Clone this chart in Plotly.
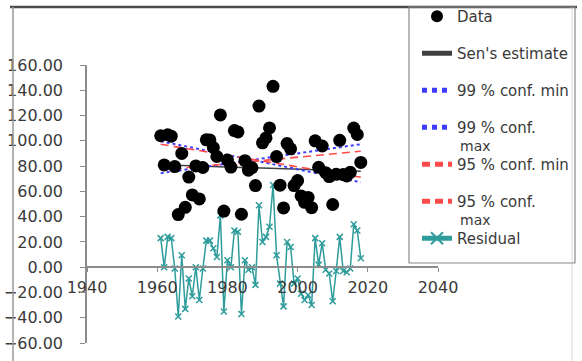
import plotly.graph_objects as go

# ---------------- data ----------------
years = list(range(1961, 2019))

data_values = [104.0, 80.9, 104.8, 103.7, 79.6, 41.6, 90.0, 47.4, 71.3, 57.2,
               80.1, 54.0, 78.9, 100.8, 100.7, 94.7, 87.6, 120.5, 44.4, 84.8,
               79.2, 108.1, 107.0, 41.9, 84.3, 76.8, 78.7, 64.6, 127.5, 98.4,
               102.3, 110.2, 143.1, 87.5, 64.9, 46.9, 97.8, 93.7, 64.6, 68.5,
               56.4, 51.3, 55.2, 47.1, 100.0, 79.0, 95.9, 74.8, 71.7, 49.6,
               73.5, 100.4, 73.3, 72.2, 75.1, 110.1, 105.0, 82.9]

residual_values = [23, 0, 24, 23, -1, -39, 9.5, -33, -9, -23,
                   0, -26, -1, 21, 21, 15, 8, 41, -35, 5.5,
                   0, 29, 28, -37, 5.5, -2, 0, -14, 49, 20,
                   24, 32, 65, 9.5, -13, -31, 20, 16, -13, -9,
                   -21, -26, -22, -30, 23, 2, 19, -2, -5, -27,
                   -3, 24, -3, -4, -1, 34, 29, 7]

line_years = [1961, 2018]
sen_estimate = [81.0, 75.9]
conf99_min = [99.7, 67.2]
conf99_max = [74.4, 97.3]
conf95_min = [97.3, 71.2]
conf95_max = [76.7, 91.8]

x_ticks = [1940, 1960, 1980, 2000, 2020, 2040]
y_ticks = [-60, -40, -20, 0, 20, 40, 60, 80, 100, 120, 140, 160]

FONT = "DejaVu Sans"
TXT = "#3a3a3a"

fig = go.Figure()

fig.add_trace(go.Scatter(x=line_years, y=sen_estimate, mode="lines", name="Sen's estimate",
                         line=dict(color="#404040", width=1.5), legendgroup="g2", legendrank=2))
fig.add_trace(go.Scatter(x=line_years, y=conf99_min, mode="lines", name="99 % conf. min",
                         line=dict(color="#3d3dff", width=2, dash="dot"), legendgroup="g3", legendrank=3))
fig.add_trace(go.Scatter(x=line_years, y=conf99_max, mode="lines", name="99 % conf.",
                         line=dict(color="#3d3dff", width=2, dash="dot"), legendgroup="g4", legendrank=4))
fig.add_trace(go.Scatter(x=line_years, y=conf95_min, mode="lines", name="95 % conf. min",
                         line=dict(color="#ff4a4a", width=1.6, dash="8px,5px"), legendgroup="g5", legendrank=5))
fig.add_trace(go.Scatter(x=line_years, y=conf95_max, mode="lines", name="95 % conf.",
                         line=dict(color="#ff4a4a", width=1.6, dash="8px,5px"), legendgroup="g6", legendrank=6))
fig.add_trace(go.Scatter(x=years, y=residual_values, mode="lines+markers", name="Residual",
                         line=dict(color="#2f9c9c", width=1.5),
                         marker=dict(symbol="x-thin", size=6, line=dict(color="#2f9c9c", width=1.5)),
                         legendgroup="g7", legendrank=7))
fig.add_trace(go.Scatter(x=years, y=data_values, mode="markers", name="Data",
                         marker=dict(color="black", size=13), legendgroup="g1", legendrank=1))

W, H = 582, 361
L, R, T, B = 87, 144, 65, 18
pw, ph = W - L - R, H - T - B


def px_x(p):
    return (p - L) / pw


def px_y(p):
    return (H - B - p) / ph


fig.update_layout(
    width=W, height=H,
    margin=dict(l=L, r=R, t=T, b=B, autoexpand=False),
    paper_bgcolor="white", plot_bgcolor="white",
    font=dict(family=FONT, color=TXT),
    showlegend=True,
    legend=dict(
        x=px_x(417), xanchor="left", y=px_y(0), yanchor="top",
        bgcolor="rgba(255,255,255,0)", borderwidth=0,
        font=dict(family=FONT, size=15, color=TXT),
        tracegroupgap=14.5, itemsizing="constant", maxheight=500,
    ),
    xaxis=dict(
        range=[1940, 2040], tickvals=x_ticks, ticktext=[str(v) for v in x_ticks],
        showgrid=False, zeroline=False, showline=True, linecolor="#8c8c8c", linewidth=1.5,
        ticks="outside", ticklen=4, tickcolor="#8c8c8c",
        anchor="free", position=60 / 220, ticklabelstandoff=2,
        tickfont=dict(family=FONT, size=16, color=TXT),
    ),
    yaxis=dict(
        range=[-60, 160], tickvals=y_ticks, tickformat=".2f",
        showgrid=False, zeroline=False, showline=True, linecolor="#8c8c8c", linewidth=1.5,
        ticks="outside", ticklen=5, tickcolor="#8c8c8c",
        tickfont=dict(family=FONT, size=16, color=TXT), ticklabelstandoff=14,
    ),
)

# chart-area border
fig.add_shape(type="line", xref="paper", yref="paper", x0=px_x(10), x1=px_x(577),
              y0=px_y(7), y1=px_y(7), line=dict(color="#4a4a4a", width=2.5))
fig.add_shape(type="line", xref="paper", yref="paper", x0=px_x(13), x1=px_x(13),
              y0=px_y(7), y1=px_y(365), line=dict(color="#9a9a9a", width=1.5))
fig.add_shape(type="line", xref="paper", yref="paper", x0=px_x(572), x1=px_x(572),
              y0=px_y(7), y1=px_y(365), line=dict(color="#d8d8d8", width=1))
# legend frame
fig.add_shape(type="rect", xref="paper", yref="paper", x0=px_x(409), x1=px_x(575),
              y0=px_y(7), y1=px_y(263), line=dict(color="#8a8a8a", width=1.2),
              fillcolor="rgba(0,0,0,0)")

# wrapped second lines of two legend labels
for py in (146, 220):
    fig.add_annotation(x=px_x(458), y=px_y(py), xref="paper", yref="paper", text="max",
                       showarrow=False, xanchor="left", yanchor="middle",
                       font=dict(family=FONT, size=14, color=TXT))

fig.write_html("out.html", post_script="document.body.style.margin='0';",
               config={"displayModeBar": False})
